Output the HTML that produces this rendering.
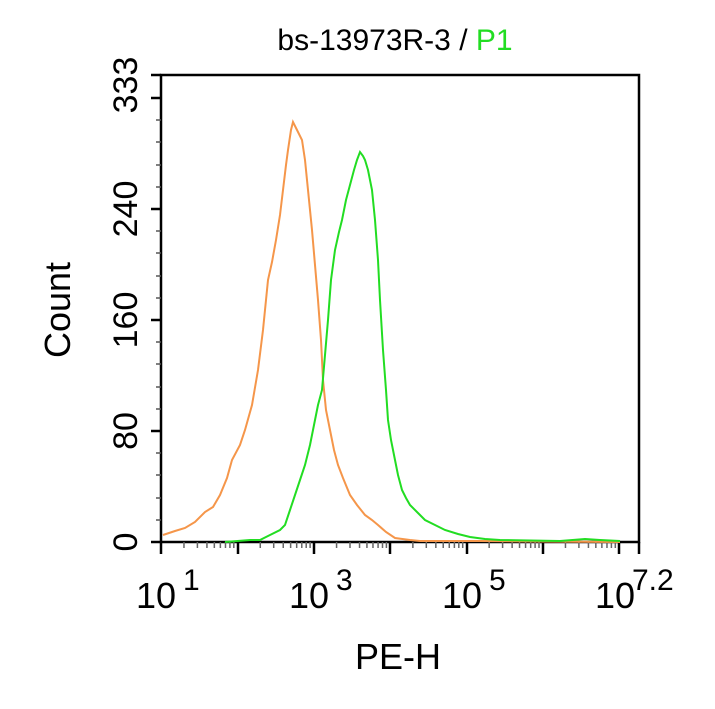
<!DOCTYPE html>
<html><head><meta charset="utf-8"><style>body{margin:0;background:#fff}</style></head><body>
<svg width="715" height="704" xmlns="http://www.w3.org/2000/svg" font-family="Liberation Sans, Arial, sans-serif">
<rect width="715" height="704" fill="#fff"/>
<text x="395" y="50" font-size="30" text-anchor="middle">bs-13973R-3 / <tspan fill="#22dd22">P1</tspan></text>
<rect x="161" y="75" width="478" height="467" fill="none" stroke="#000" stroke-width="2.5"/>
<g stroke="#000" stroke-width="2.5">
<line x1="151" y1="542" x2="161" y2="542"/><line x1="151" y1="431" x2="161" y2="431"/><line x1="151" y1="320" x2="161" y2="320"/><line x1="151" y1="209" x2="161" y2="209"/><line x1="151" y1="98" x2="161" y2="98"/><line x1="151" y1="75" x2="161" y2="75"/>
</g>
<g stroke="#555" stroke-width="1.5">
<line x1="156" y1="520" x2="161" y2="520"/><line x1="156" y1="498" x2="161" y2="498"/><line x1="156" y1="475" x2="161" y2="475"/><line x1="156" y1="453" x2="161" y2="453"/>
<line x1="156" y1="409" x2="161" y2="409"/><line x1="156" y1="387" x2="161" y2="387"/><line x1="156" y1="364" x2="161" y2="364"/><line x1="156" y1="342" x2="161" y2="342"/>
<line x1="156" y1="298" x2="161" y2="298"/><line x1="156" y1="276" x2="161" y2="276"/><line x1="156" y1="253" x2="161" y2="253"/><line x1="156" y1="231" x2="161" y2="231"/>
<line x1="156" y1="187" x2="161" y2="187"/><line x1="156" y1="165" x2="161" y2="165"/><line x1="156" y1="142" x2="161" y2="142"/><line x1="156" y1="120" x2="161" y2="120"/>
</g>
<g stroke="#000" stroke-width="2.5">
<line x1="161" y1="542" x2="161" y2="554"/><line x1="238" y1="542" x2="238" y2="554"/><line x1="314" y1="542" x2="314" y2="554"/><line x1="390" y1="542" x2="390" y2="554"/><line x1="467" y1="542" x2="467" y2="554"/><line x1="543" y1="542" x2="543" y2="554"/><line x1="619" y1="542" x2="619" y2="554"/><line x1="639" y1="542" x2="639" y2="554"/>
</g>
<g stroke="#666" stroke-width="1.5" id="xm"></g>
<g font-size="34" text-anchor="middle">
<text transform="translate(137,542) rotate(-90)">0</text>
<text transform="translate(137,431) rotate(-90)">80</text>
<text transform="translate(137,320) rotate(-90)">160</text>
<text transform="translate(137,209) rotate(-90)">240</text>
<text transform="translate(137,85) rotate(-90)">333</text>
</g>
<g font-size="36">
<text x="136" y="608">10</text><text x="183" y="590" font-size="30">1</text>
<text x="289" y="608">10</text><text x="336" y="590" font-size="30">3</text>
<text x="442" y="608">10</text><text x="489" y="590" font-size="30">5</text>
<text x="595" y="608">10</text><text x="632" y="590" font-size="30">7.2</text>
</g>
<text x="398" y="669" font-size="36" text-anchor="middle">PE-H</text>
<text transform="translate(70,310) rotate(-90)" font-size="36" text-anchor="middle">Count</text>
<polyline fill="none" stroke="#f5964a" stroke-width="2" points="163,535 175,531 185,528 195,522 205,512 213,507 220,495 227,478 232,460 240,445 245,430 252,405 258,370 263,330 268,280 272,262 276,240 280,215 283,190 286,165 288,150 291,130 293,122 296,128 298,132 302,140 305,160 308,190 312,230 315,265 318,300 321,340 323,380 326,410 330,430 334,450 338,465 343,478 350,495 357,505 365,515 372,520 378,525 386,532 395,538 410,540 420,541 480,541 620,542"/>
<polyline fill="none" stroke="#22dd22" stroke-width="2" points="225,542 250,540 260,540 270,535 280,530 285,525 290,510 295,495 300,480 305,465 310,445 315,420 318,405 322,390 325,355 328,320 331,280 335,250 339,232 342,220 346,200 350,185 354,170 357,160 360,152 363,156 365,160 368,170 372,190 375,220 378,260 380,300 383,350 386,390 388,420 391,440 395,460 398,475 402,490 406,498 410,505 418,513 425,520 435,525 445,530 458,534 470,537 485,539 500,540 560,541 585,539 600,540 620,541"/>
</svg>
<script>
var g=document.getElementById('xm');var s='';
for(var d=1;d<7.2;d++){for(var k=2;k<10;k++){var x=161+(d-1+Math.log10(k))*76.3;if(x<639)s+='<line x1="'+x+'" y1="542" x2="'+x+'" y2="548"/>';}}
g.innerHTML=s;
</script>
</body></html>
